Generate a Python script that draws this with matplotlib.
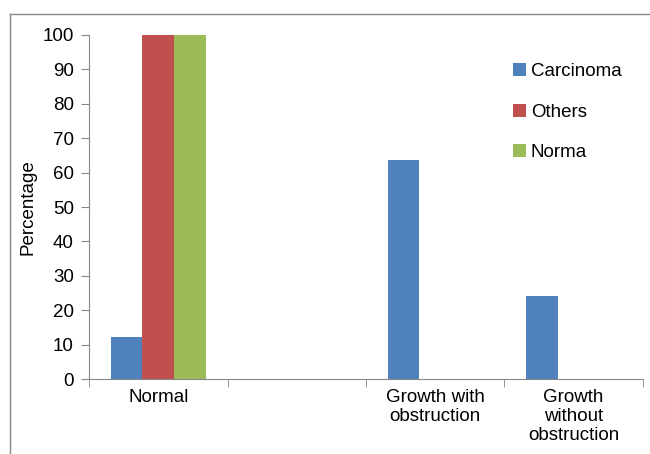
import numpy as np
import matplotlib.pyplot as plt
from matplotlib.lines import Line2D

plt.rcParams['font.family'] = ['Liberation Sans', 'DejaVu Sans']

# data
categories = ["Normal", "", "Growth with\nobstruction", "Growth\nwithout\nobstruction"]
series = ["Carcinoma", "Others", "Norma"]
carcinoma = [12.2, 0, 63.7, 24.1]
others = [100, 0, 0, 0]
norma = [100, 0, 0, 0]
colors = ["#4F81BD", "#C0504D", "#9BBB59"]

fs = 13.5

fig = plt.figure(figsize=(6.5, 4.54), dpi=100)
ax = fig.add_axes([0.137, 0.165, 0.852, 0.758])

x = np.arange(len(categories)) + 0.5
w = 0.228
for i, (name, vals) in enumerate(zip(series, [carcinoma, others, norma])):
    ax.bar(x + (i - 1) * w, vals, width=w, color=colors[i], label=name)

ax.set_xlim(0, len(categories))
ax.set_ylim(0, 100)
ax.set_yticks(np.arange(0, 101, 10))
ax.set_xticks(x)
ax.set_xticklabels(categories, fontsize=fs, va='top', linespacing=1.17)
ax.set_xticks(np.arange(len(categories) + 1), minor=True)
ax.tick_params(axis='x', which='major', length=0, pad=7)
ax.tick_params(axis='x', which='minor', length=6, color='#888888', direction='out')
ax.tick_params(axis='y', length=6, color='#888888', labelsize=fs, pad=5)
ax.set_ylabel("Percentage", fontsize=fs, labelpad=4)

for s in ['top', 'right']:
    ax.spines[s].set_visible(False)
for s in ['left', 'bottom']:
    ax.spines[s].set_color('#888888')

ax.legend(loc='upper left', bbox_to_anchor=(0.763, 0.898), bbox_transform=fig.transFigure,
          frameon=False, fontsize=fs, labelspacing=1.24, handlelength=0.7,
          handleheight=0.7, handletextpad=0.25)

# outer frame lines
fig.add_artist(Line2D([0.0154, 0.0154], [0, 0.969], color='#888888', lw=1))
fig.add_artist(Line2D([0.0154, 1.0], [0.969, 0.969], color='#888888', lw=1))

fig.savefig("out.png", dpi=100)
